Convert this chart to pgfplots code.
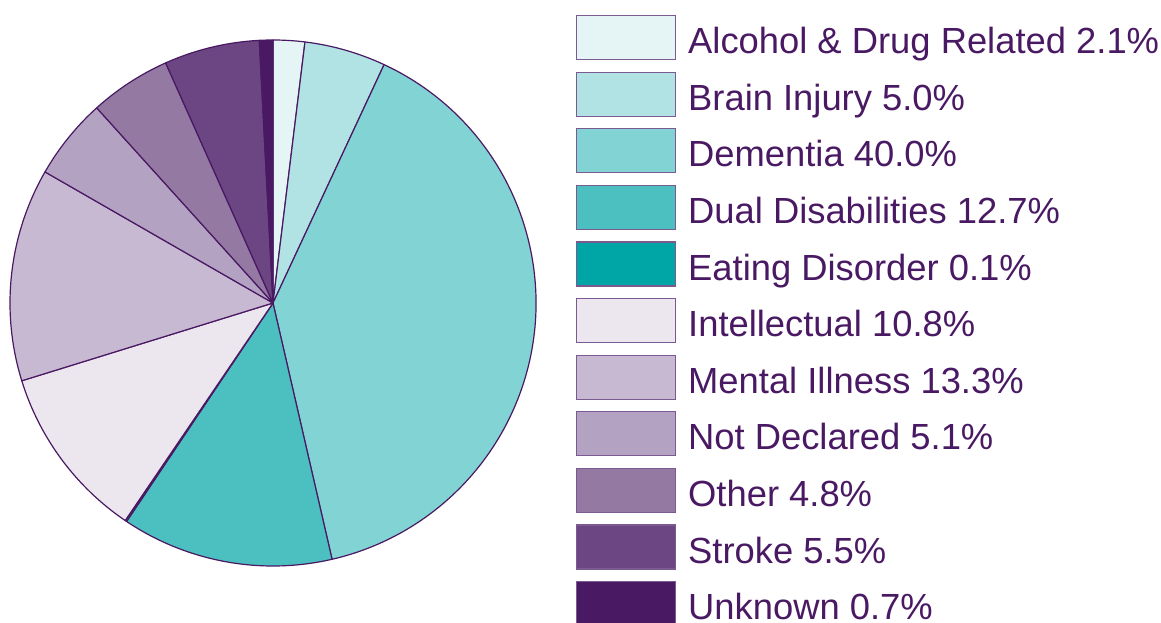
\documentclass[border=0pt]{standalone}
\usepackage{fontspec}
\setmainfont{Liberation Sans}
\usepackage{pgfplots}
\usepackage{pgfplotstable}
\pgfplotsset{compat=1.18}
\definecolor{cA}{HTML}{E5F5F5}
\definecolor{cB}{HTML}{B1E3E4}
\definecolor{cC}{HTML}{82D3D4}
\definecolor{cD}{HTML}{4CBFC0}
\definecolor{cE}{HTML}{00A5A6}
\definecolor{cF}{HTML}{ECE6EF}
\definecolor{cG}{HTML}{C8B9D2}
\definecolor{cH}{HTML}{B4A2C2}
\definecolor{cI}{HTML}{9479A3}
\definecolor{cJ}{HTML}{6C4583}
\definecolor{cK}{HTML}{4A1963}
\definecolor{outl}{HTML}{4A1963}
\definecolor{boxl}{HTML}{7A5A90}
\definecolor{txt}{HTML}{4A1963}

% slice sizes (percent) as drawn in the pie
\pgfplotstableread{
value color
1.94 cA
5.00 cB
39.44 cC
13.00 cD
0.10 cE
10.72 cF
13.08 cG
5.00 cH
5.00 cI
5.86 cJ
0.83 cK
}\piedata

\begin{document}
\begin{tikzpicture}
\useasboundingbox (-273bp,-320bp) rectangle (888bp,303bp);
\begin{axis}[
  at={(0,0)}, anchor=origin,
  x=263bp, y=263bp,
  xmin=-1, xmax=1, ymin=-1, ymax=1,
  hide axis, clip=false,
  legend style={
    at={(1.076,1.0475)}, anchor=north west,
    draw=none, fill=none, inner sep=0pt, outer sep=0pt,
    font=\fontsize{36.5}{40}\selectfont, text=txt,
    nodes={inner sep=0pt, text height=33bp, text depth=1bp},
    row sep=11.4bp, column sep=12bp,
  },
  legend cell align=left,
  legend image code/.code={\draw[#1] (0bp,-22bp) rectangle (99bp,22bp);},
]
\pgfplotstablegetrowsof{\piedata}
\pgfmathtruncatemacro\nrows{\pgfplotsretval-1}
\def\angA{90}
\pgfplotsforeachungrouped \i in {0,...,\nrows}{
  \pgfplotstablegetelem{\i}{value}\of\piedata
  \let\val\pgfplotsretval
  \pgfplotstablegetelem{\i}{color}\of\piedata
  \let\col\pgfplotsretval
  \pgfmathsetmacro\angB{\angA-\val*360/99.97}
  \edef\cmd{\noexpand\filldraw[fill=\col, draw=outl, line width=1.2bp, line join=round]
    (axis cs:0,0) -- (axis cs:{cos(\angA)},{sin(\angA)})
    arc[start angle=\angA, end angle=\angB, radius=263bp] -- cycle;}
  \cmd
  \global\let\angA\angB
}
\addlegendimage{fill=cA, draw=boxl, line width=1.2bp}
\addlegendentry{Alcohol \& Drug Related 2.1\%}
\addlegendimage{fill=cB, draw=boxl, line width=1.2bp}
\addlegendentry{Brain Injury 5.0\%}
\addlegendimage{fill=cC, draw=boxl, line width=1.2bp}
\addlegendentry{Dementia 40.0\%}
\addlegendimage{fill=cD, draw=boxl, line width=1.2bp}
\addlegendentry{Dual Disabilities 12.7\%}
\addlegendimage{fill=cE, draw=boxl, line width=1.2bp}
\addlegendentry{Eating Disorder 0.1\%}
\addlegendimage{fill=cF, draw=boxl, line width=1.2bp}
\addlegendentry{Intellectual 10.8\%}
\addlegendimage{fill=cG, draw=boxl, line width=1.2bp}
\addlegendentry{Mental Illness 13.3\%}
\addlegendimage{fill=cH, draw=boxl, line width=1.2bp}
\addlegendentry{Not Declared 5.1\%}
\addlegendimage{fill=cI, draw=boxl, line width=1.2bp}
\addlegendentry{Other 4.8\%}
\addlegendimage{fill=cJ, draw=boxl, line width=1.2bp}
\addlegendentry{Stroke 5.5\%}
\addlegendimage{fill=cK, draw=boxl, line width=1.2bp}
\addlegendentry{Unknown 0.7\%}
\end{axis}
\end{tikzpicture}
\end{document}
